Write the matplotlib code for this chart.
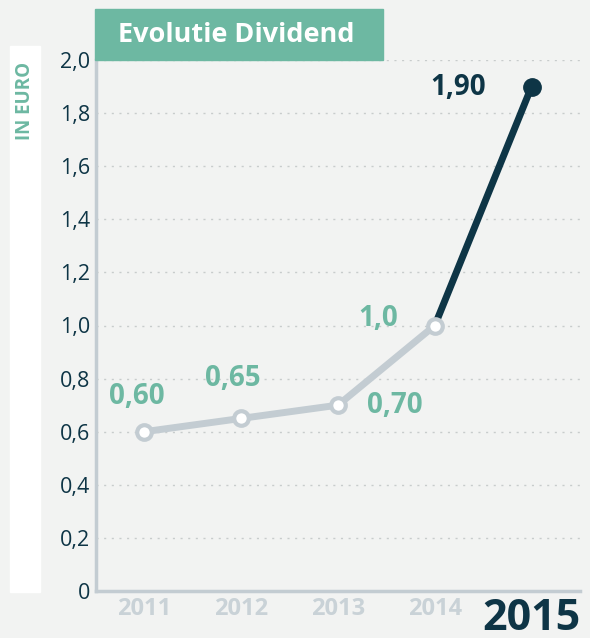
import matplotlib.pyplot as plt
from matplotlib.patches import Rectangle
from matplotlib.transforms import ScaledTranslation

plt.rcParams['font.family'] = ['Open Sans', 'DejaVu Sans']

years = [2011, 2012, 2013, 2014, 2015]
dividend = [0.60, 0.65, 0.70, 1.00, 1.90]
value_labels = ['0,60', '0,65', '0,70', '1,0', '1,90']
y_ticks = [0, 0.2, 0.4, 0.6, 0.8, 1.0, 1.2, 1.4, 1.6, 1.8, 2.0]
y_tick_labels = ['0', '0,2', '0,4', '0,6', '0,8', '1,0', '1,2', '1,4', '1,6', '1,8', '2,0']

bg = '#f2f3f2'
green = '#6db8a2'
dark = '#0e3546'
grey = '#c3ccd2'

fig = plt.figure(figsize=(5.9, 6.38), dpi=100, facecolor=bg)
ax = fig.add_axes([96 / 590, 47 / 638, 484 / 590, 531 / 638])
ax.set_facecolor(bg)

# white strip behind the unit label
fig.patches.append(Rectangle((10 / 590, 46 / 638), 30 / 590, 546 / 638,
                             transform=fig.transFigure, color='white', zorder=0))
fig.text(25 / 590, (638 - 101) / 638, 'IN EURO', rotation=90, color=green,
         fontsize=13.5, fontweight='bold', ha='center', va='center')

for y in y_ticks[1:]:
    ax.axhline(y, color='#c8cccc', lw=1, ls=(0, (1.5, 4)), zorder=1)

ax.plot(years[3:], dividend[3:], color=dark, lw=5, solid_capstyle='round', zorder=2)
ax.plot(years[:4], dividend[:4], color=grey, lw=5, zorder=3,
        marker='o', ms=10.5, mfc='white', mec=grey, mew=3)
ax.plot(years[4], dividend[4], 'o', color=dark, ms=12.5, zorder=4)

# label offsets in pixels from the point
offsets = [(-8, 35), (-8, 40), (57, 0), (-57, 7), (-73, -1)]
for i in range(len(years)):
    col = dark if i == 4 else green
    ax.annotate(value_labels[i], (years[i], dividend[i]), xytext=offsets[i],
                textcoords='offset pixels', color=col, fontsize=20,
                fontweight='bold', ha='center', va='center', zorder=5)

ax.set_xlim(2010.5, 2015.5)
ax.set_ylim(0, 2.0)
ax.set_yticks(y_ticks)
ax.set_yticklabels(y_tick_labels, color=dark, fontsize=15.5)
ax.set_xticks(years)
ax.set_xticklabels([str(y) for y in years])
for i, lab in enumerate(ax.get_xticklabels()):
    lab.set_fontweight('bold')
    if i == 4:
        lab.set_color(dark)
        lab.set_fontsize(31)
        lab.set_va('top')
        # the highlighted year sits a little lower, touching the bottom edge
        lab.set_transform(lab.get_transform() +
                          ScaledTranslation(0, -0.06, fig.dpi_scale_trans))
    else:
        lab.set_color('#c9d2d7')
        lab.set_fontsize(17)
ax.tick_params(length=0)
ax.tick_params(axis='x', pad=4)
ax.tick_params(axis='y', pad=4)

for s in ['top', 'right']:
    ax.spines[s].set_visible(False)
for s in ['left', 'bottom']:
    ax.spines[s].set_color(grey)
    ax.spines[s].set_linewidth(2.5)

# title box
fig.patches.append(Rectangle((95 / 590, (638 - 60) / 638), 288 / 590, 51 / 638,
                             transform=fig.transFigure, color=green, zorder=5))
fig.text(236 / 590, (638 - 35) / 638, 'Evolutie Dividend', color='white',
         fontsize=19.5, fontweight='bold', ha='center', va='center', zorder=6)

fig.savefig('out.png', dpi=100, facecolor=bg)
